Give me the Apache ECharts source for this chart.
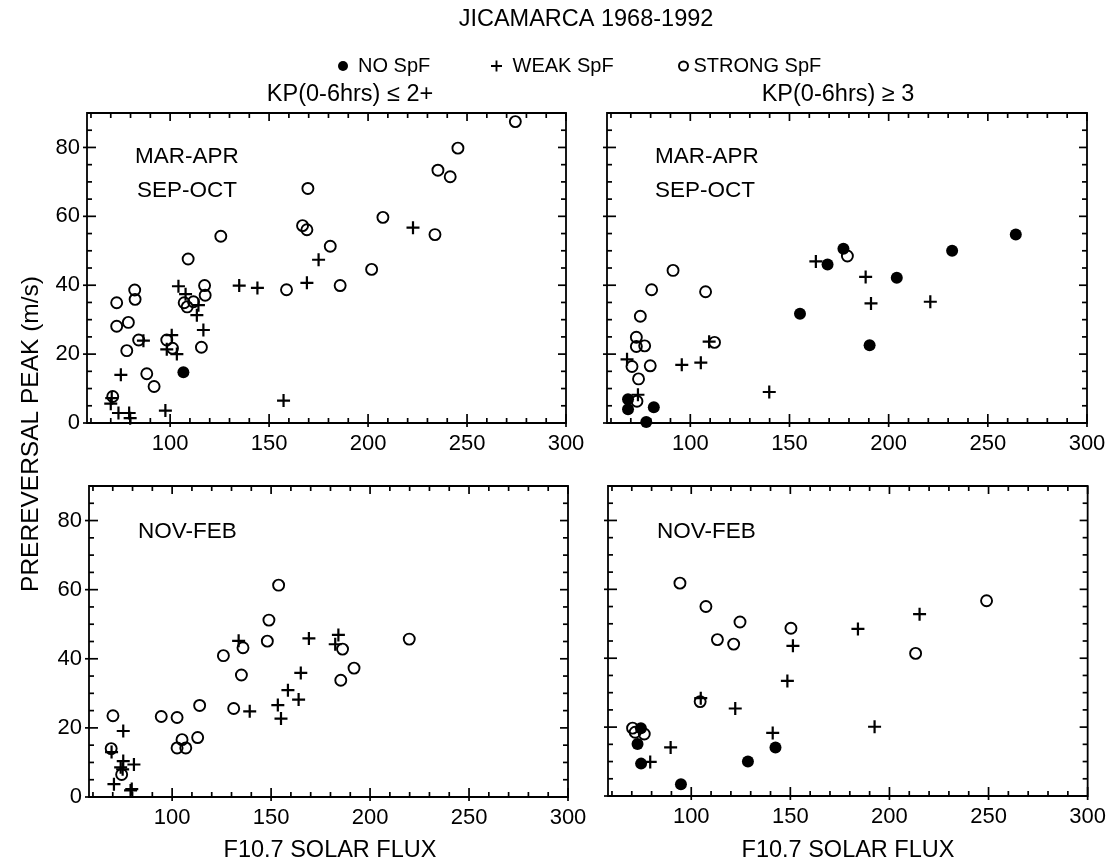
<!DOCTYPE html>
<html>
<head>
<meta charset="utf-8">
<script src="https://cdn.jsdelivr.net/npm/echarts@6/dist/echarts.min.js"></script>
<style>
html,body{margin:0;padding:0;background:#fff;}
#chart{width:1109px;height:865px;}
</style>
</head>
<body>
<div id="chart"></div>
<script>
// ---------- DATA ----------
const seasonsTop = ['MAR-APR', 'SEP-OCT'];
const seasonsBottom = ['NOV-FEB'];
const kpLabels = ['KP(0-6hrs) \u2264 2+', 'KP(0-6hrs) \u2265 3'];
const typeNames = ['NO SpF', 'WEAK SpF', 'STRONG SpF'];

// Tick labels / tick values
const xTickLabels = [100, 150, 200, 250, 300];
const xMinorTicks = [60, 70, 80, 90, 110, 120, 130, 140, 160, 170, 180, 190, 210, 220, 230, 240, 260, 270, 280, 290];
const yTickLabels = [0, 20, 40, 60, 80];
const yMinorTicks = [5, 10, 15, 25, 30, 35, 45, 50, 55, 65, 70, 75, 85];

// MAR-APR / SEP-OCT, KP <= 2+  ([F10.7, peak m/s])
const eqLowKpNone = [[106.7, 14.7]];
const eqLowKpWeak = [[222.7, 56.7], [175, 47.4], [169.1, 40.7], [134.9, 39.9], [144.1, 39.2], [104.2, 39.7], [107.8, 37.4], [114.3, 34.2], [113.5, 31.3], [116.8, 27], [100.8, 25.5], [98.3, 21.4], [103.4, 20], [86.5, 23.9], [75.1, 14], [157.3, 6.5], [70, 5.6], [73.9, 2.9], [79.3, 2.9], [79.8, 1.4], [97.6, 3.6], [70.5, 7.2]];
const eqLowKpStrong = [[274.4, 87.5], [245.4, 79.8], [235.3, 73.4], [241.5, 71.5], [169.6, 68.1], [207.5, 59.7], [166.9, 57.3], [169.1, 56.1], [233.8, 54.7], [125.6, 54.2], [180.9, 51.3], [201.8, 44.6], [109.1, 47.6], [185.9, 39.9], [158.8, 38.7], [117.4, 39.9], [117.7, 37.1], [82.1, 38.6], [82.3, 35.9], [73, 34.9], [107.1, 34.9], [108.6, 33.7], [111.8, 35.2], [73, 28.1], [78.9, 29.2], [84.1, 24.1], [98.3, 24.1], [78.1, 21], [101.2, 21.7], [115.8, 22], [88.2, 14.3], [91.9, 10.6], [71, 7.7]];

// MAR-APR / SEP-OCT, KP >= 3
const eqHighKpNone = [[264.1, 54.7], [232, 50], [177.2, 50.6], [169.2, 46], [204.1, 42.2], [155.3, 31.7], [190.4, 22.6], [81.6, 4.6], [77.8, 0.3], [68.6, 6.9], [68.6, 4]];
const eqHighKpWeak = [[163.3, 46.9], [188.4, 42.4], [191.1, 34.7], [221, 35.2], [109.5, 23.6], [95.7, 16.9], [105.3, 17.5], [139.8, 9], [68.1, 18.5], [73.6, 8.2]];
const eqHighKpStrong = [[179.2, 48.5], [91.3, 44.3], [80.5, 38.7], [107.7, 38.1], [74.8, 31], [72.8, 24.9], [72.8, 22.2], [77, 22.4], [112.2, 23.4], [70.6, 16.4], [79.8, 16.6], [73.9, 12.8], [73.1, 6.3]];

// NOV-FEB, KP <= 2+
const solLowKpNone = [];
const solLowKpWeak = [[133.6, 45.2], [169.1, 45.9], [184, 46.9], [182.4, 44.2], [165, 35.9], [158.5, 30.9], [163.9, 28.2], [153.4, 26.6], [155, 22.7], [139.2, 24.8], [75.3, 19.1], [75.3, 10.4], [80.7, 9.4], [70.6, 3.7], [69.4, 13], [79, 1.9], [75, 8], [74, 8.6], [79.6, 2.3]];
const solLowKpStrong = [[153.8, 61.3], [148.9, 51.2], [148.1, 45.1], [219.8, 45.7], [135.8, 43.2], [186.1, 42.8], [125.9, 40.9], [191.9, 37.3], [135, 35.3], [185.2, 33.8], [131.1, 25.6], [113.9, 26.5], [94.5, 23.3], [102.5, 23], [70.1, 23.5], [112.9, 17.2], [105, 16.6], [102.5, 14.2], [106.9, 14.2], [69.2, 14], [74.5, 6.5]];

// NOV-FEB, KP >= 3
const solHighKpNone = [[74.6, 19.7], [72.9, 15.1], [74.7, 9.4], [94.8, 3.4], [128.6, 10], [142.5, 14.1]];
const solHighKpWeak = [[215.2, 52.8], [184.1, 48.5], [151.3, 43.6], [148.5, 33.4], [122.2, 25.4], [104.8, 28.4], [141.1, 18.3], [192.5, 20.1], [89.6, 14.1], [79.3, 9.9]];
const solHighKpStrong = [[94.3, 61.8], [107.4, 55], [124.6, 50.5], [113.2, 45.4], [121.4, 44.1], [150.3, 48.7], [213.2, 41.4], [249, 56.7], [104.5, 27.4], [70.4, 19.7], [71.7, 18.5], [76.3, 18]];

// ---------- LAYOUT / STYLE ----------
const FONT_FAMILY = '"Liberation Sans", Arial, Helvetica, sans-serif';
const X_MIN = 58, X_MAX = 300, Y_MIN = 0, Y_MAX = 90;
const grids = [
  {left: 87, top: 113, width: 479, height: 310},
  {left: 607, top: 113, width: 480, height: 310},
  {left: 89, top: 486, width: 479, height: 311},
  {left: 608, top: 486, width: 480, height: 310}
];
const panelData = [
  [eqLowKpNone, eqLowKpWeak, eqLowKpStrong],
  [eqHighKpNone, eqHighKpWeak, eqHighKpStrong],
  [solLowKpNone, solLowKpWeak, solLowKpStrong],
  [solHighKpNone, solHighKpWeak, solHighKpStrong]
];
const PLUS = 'path://M4.15,0H5.85V4.15H10V5.85H5.85V10H4.15V5.85H0V4.15H4.15Z';
const labelStyle = {color: '#000', fontSize: 22, fontFamily: FONT_FAMILY};
const TW = 1.7; // tick thickness

const xAxis = [], yAxis = [], series = [];

// frame tick marks: thin rectangles placed at tick values through each grid's scales
function tickSeries(g, data, size, offset) {
  return {
    type: 'scatter', xAxisIndex: g, yAxisIndex: g, data: data,
    symbol: 'rect', symbolSize: size, symbolOffset: offset, clip: false, silent: true, z: 5,
    emphasis: {disabled: true}, itemStyle: {color: '#000', opacity: 1}
  };
}

grids.forEach((gr, g) => {
  const leftPanel = (g % 2 === 0);
  xAxis.push({
    type: 'value', gridIndex: g, position: 'bottom', min: X_MIN, max: X_MAX,
    axisLine: {show: false}, splitLine: {show: false}, axisTick: {show: false},
    axisLabel: Object.assign({show: true, customValues: xTickLabels, margin: 10}, labelStyle)
  });
  yAxis.push({
    type: 'value', gridIndex: g, position: 'left', min: Y_MIN, max: Y_MAX,
    axisLine: {show: false}, splitLine: {show: false}, axisTick: {show: false},
    axisLabel: leftPanel ? Object.assign({show: true, customValues: yTickLabels, margin: 7}, labelStyle) : {show: false}
  });
  series.push(tickSeries(g, xTickLabels.map(v => [v, Y_MIN]), [TW, 13], [0, -2.5]));
  series.push(tickSeries(g, xMinorTicks.map(v => [v, Y_MIN]), [TW, 5], [0, -2.5]));
  series.push(tickSeries(g, xTickLabels.map(v => [v, Y_MAX]), [TW, 8], [0, 4]));
  series.push(tickSeries(g, xMinorTicks.map(v => [v, Y_MAX]), [TW, 5], [0, 2.5]));
  series.push(tickSeries(g, yTickLabels.map(v => [X_MIN, v]), [13, TW], [2.5, 0]));
  series.push(tickSeries(g, yMinorTicks.map(v => [X_MIN, v]), [5, TW], [2.5, 0]));
  series.push(tickSeries(g, yTickLabels.map(v => [X_MAX, v]), [8, TW], [-4, 0]));
  series.push(tickSeries(g, yMinorTicks.map(v => [X_MAX, v]), [5, TW], [-2.5, 0]));

  const [none, weak, strong] = panelData[g];
  const base = {type: 'scatter', xAxisIndex: g, yAxisIndex: g, silent: true, z: 3, emphasis: {disabled: true}};
  series.push(Object.assign({}, base, {name: typeNames[1], data: weak, symbol: PLUS, symbolSize: 13,
    itemStyle: {color: '#000', opacity: 1}}));
  series.push(Object.assign({}, base, {name: typeNames[2], data: strong, symbol: 'circle', symbolSize: 11,
    itemStyle: {color: 'rgba(255,255,255,0)', borderColor: '#000', borderWidth: 1.9, opacity: 1}}));
  series.push(Object.assign({}, base, {name: typeNames[0], data: none, symbol: 'circle', symbolSize: 12,
    itemStyle: {color: '#000', opacity: 1}}));
});

const gridOpts = grids.map(gr => Object.assign({show: true, borderColor: '#000', borderWidth: 1.8, backgroundColor: 'transparent', containLabel: false}, gr));

const txt = (text, x, y, size, align, extra) => Object.assign({
  type: 'text', x: x, y: y, silent: true,
  style: {text: text, fill: '#000', font: size + 'px ' + FONT_FAMILY, textAlign: align || 'left', textVerticalAlign: 'middle'}
}, extra || {});

const textEls = [
  txt('JICAMARCA 1968-1992', 586, 20, 23.5, 'center'),
  txt(kpLabels[0], 350, 95, 23.5, 'center'),
  txt(kpLabels[1], 838, 95, 23.5, 'center'),
  txt(seasonsTop[0], 135, 157, 22.5),
  txt(seasonsTop[1], 137, 191, 22.5),
  txt(seasonsTop[0], 655, 157, 22.5),
  txt(seasonsTop[1], 655, 191, 22.5),
  txt(seasonsBottom[0], 138, 532, 22.5),
  txt(seasonsBottom[0], 657, 532, 22.5),
  txt('F10.7 SOLAR FLUX', 330, 851, 23.5, 'center'),
  txt('F10.7 SOLAR FLUX', 848, 851, 23.5, 'center'),
  txt('PREREVERSAL PEAK (m/s)', 31, 434, 24.5, 'center', {rotation: Math.PI / 2})
];

const legendBase = {orient: 'horizontal', selectedMode: false, itemGap: 0, top: 51,
  textStyle: {color: '#000', fontSize: 20, fontFamily: FONT_FAMILY}};

const option = {
  animation: false,
  backgroundColor: '#fff',
  grid: gridOpts,
  xAxis: xAxis,
  yAxis: yAxis,
  series: series,
  legend: [
    Object.assign({}, legendBase, {data: [typeNames[0]], left: 333, itemWidth: 20, itemHeight: 10}),
    Object.assign({}, legendBase, {data: [typeNames[1]], left: 486, itemWidth: 22, itemHeight: 11}),
    Object.assign({}, legendBase, {data: [typeNames[2]], left: 673, itemWidth: 10, itemHeight: 9})
  ],
  graphic: {elements: textEls}
};

const chart = echarts.init(document.getElementById('chart'));
chart.setOption(option);
</script>
</body>
</html>
